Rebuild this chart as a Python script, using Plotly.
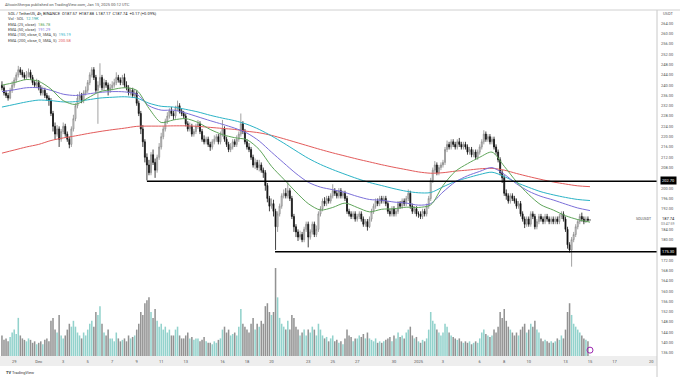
import plotly.graph_objects as go
import pandas as pd

# ---------------- data (4h candles, SOL/USDT, Nov 28 2024 00:00 -> Jan 15 2025 00:00) ----------------
START = "2024-11-28 00:00"

opens = [
 240,239,237,236,235,238, 240,242,244,246,245,244, 243,244,245,243,241,240,
 241,239,237,238,236,235, 234,229,224,221,223,219, 222,224,221,219,217,223,
 227,232,235,236,234,237, 238,241,244,246,243,238, 240,243,239,241,240,238,
 239,240,241,243,242,241, 243,240,239,237,238,236, 237,233,229,223,218,212,
 209,206,213,210,207,212, 216,220,223,226,228,230, 229,228,231,232,230,229,
 228,225,223,224,221,222, 224,225,222,219,218,219, 217,216,218,219,220,218,
 221,223,219,217,215,216, 218,217,219,221,225,222, 218,216,215,212,209,210,
 208,209,207,206,201,196, 193,194,191,185,190,193, 197,198,197,199,196,189,
 185,183,181,182,180,184, 186,181,183,186,182,184, 190,192,195,194,196,195,
 197,199,198,197,199,197, 198,196,191,190,189,190, 188,189,190,188,186,187,
 185,188,191,193,195,194, 196,195,196,194,191,190, 192,190,191,194,193,195,
 194,196,198,193,191,192, 190,190,189,191,190,193, 196,203,207,209,206,208,
 209,210,215,217,216,218, 217,216,218,217,216,217, 216,214,215,213,214,212,
 214,216,218,221,219,220, 218,219,216,214,211,206, 204,198,197,195,197,196,
 195,193,194,190,188,186, 188,186,190,189,185,187, 189,188,187,189,188,187,
 188,187,188,187,189,190, 188,184,178,176,180,182, 185,187,189,188,187,188,
 187.57]

highs = [
 241.5,240,238,237,239,241.5, 243,245,247.5,247,246,245, 245.5,246.5,246,244,242,242.5,
 242,240,239.5,239,237,236, 235,230,225.5,224.5,224,223, 225.5,225,222,220,224,228.5,
 233,236.5,237.5,237,238,239.5, 242,245,247,247,244,241.5, 248.5,244,242.5,242,241,240.5,
 241.5,242.5,245,244,243,244, 244.5,241.5,240,239,239,238.5, 238,234,230,224.5,219,213.5,
 211,214,215,211.5,213,217.5, 221.5,224,227,229.5,231,231.5, 230,232,234,233,231,230,
 229,226,225.5,225,223,225, 226.5,226,223,220.5,220,220, 218,219,220.5,221,221,222,
 226.5,224,220,218,217.5,219, 219,220.5,222,229,226,223, 219,217.5,216,213,211.5,211,
 211,210,208,207,202,197, 196,195.5,192,191,194,198, 199.5,200,202.3,200,197,190,
 186,184,183.5,183,185,187, 187,184,187,187,185.5,191, 193,196,196.5,197,197,198,
 201.5,200,199,200,200,199, 199,197,192,191,191,191, 190,191,191,189,188,188,
 189,192,194,196,196,197, 197,197,197,195,192,193, 193,192,195,195,196,196,
 197,199.5,199,194,193,193, 191,191,192,192,194,197, 204,208,210.5,210,209,210,
 211,216,218.5,218,219,219, 218,219,219.5,218,218,218, 217,216,216,215,215,215,
 217,219,222.5,222,221,221, 220,220,217,215,212,207, 205,199.5,198,198,198,197,
 196,195,195,191,189,189, 189,191,191,190,188,190, 190,189,190,190,189,189,
 189,189,189,190,191,191, 189,185,179,181,183,186, 188,190,190.5,189,189,189,
 187.88]

lows = [
 238,236,235,234,234.5,237, 239,241,243,244,243,242, 242,243,242,240,239,239,
 238,236,236,235,234,232, 228,222,219,220,216,218, 221,220,218,215.5,216,222,
 226,231,234,233,233,236, 237,240,243,242,237,225, 239,238,238,239,236,237,
 238,239,240,241,240,240, 239,238,236,236,235,235, 232,228,221,216,210,203,
 205,205,209,204,206,211, 215,219,222,225,227,228, 226.5,227,230,229,228,227,
 224,222,222,220,220,221, 223,221,218,217,217,216, 214.5,215,217,218,217,217,
 220,218,216,214,214,215, 216,216,218,220,221,217, 215,214,211,208,207.5,207,
 206.5,206,204,199,194.5,191, 192,189,176,183,189,192, 196,196,196,195,188,183,
 181,179.5,180,179,179,183, 177,180,182,181,181,183, 189,191,193,193,194,194,
 196,197,196,196,196,196, 195,190,189,188,188,187, 187,188,187,185,185,183.5,
 184.5,187,190,192,193,193, 194,194,193,190,189,189, 189,189,190,192,192,193,
 193,195,192,190,190,189, 188.5,188,188,189,189,192, 195,202,206,205,205,207,
 208,209,214,215,215,216, 215,215,216,215,215,215, 213,213,212,212,211,211,
 213,215,217,218,218,217, 217,215,213,210,205,202, 197,195.5,194,194,195,194,
 192,192,189,187,184.5,185, 185,185,188,184,184,186, 187,186,186,187,186,186,
 186,186,186,186,188,187, 183,176.5,175,169.5,179,181, 184,186,187,186,186.5,187,
 187.17]

closes = [
 239,237,236,235,238,240, 242,244,246,245,244,243, 244,245,243,241,240,241,
 239,237,238,236,235,234, 229,224,221,223,219,222, 224,221,219,217,223,227,
 232,235,236,234,237,238, 241,244,246,243,238,240, 243,239,241,240,238,239,
 240,241,243,242,241,243, 240,239,237,238,236,237, 233,229,223,218,212,209,
 206,213,210,207,212,216, 220,223,226,228,230,229, 228,231,232,230,229,228,
 225,223,224,221,222,224, 225,222,219,218,219,217, 216,218,219,220,218,221,
 223,219,217,215,216,218, 217,219,221,225,222,218, 216,215,212,209,210,208,
 209,207,206,201,196,193, 194,191,185,190,193,197, 198,197,199,196,189,185,
 183,181,182,180,184,186, 181,183,186,182,184,190, 192,195,194,196,195,197,
 199,198,197,199,197,198, 196,191,190,189,190,188, 189,190,188,186,187,185,
 188,191,193,195,194,196, 195,196,194,191,190,192, 190,191,194,193,195,194,
 196,198,193,191,192,190, 190,189,191,190,193,196, 203,207,209,206,208,209,
 210,215,217,216,218,217, 216,218,217,216,217,216, 214,215,213,214,212,214,
 216,218,221,219,220,218, 219,216,214,211,206,204, 198,197,195,197,196,195,
 193,194,190,188,186,188, 186,190,189,185,187,189, 188,187,189,188,187,188,
 187,188,187,189,190,188, 184,178,176,180,182,185, 187,189,188,187,188,187.57,
 187.74]

volumes_k = [
 700,550,600,500,650,800, 900,750,1300,700,600,550, 500,600,550,450,500,400,
 450,500,400,550,600,500, 1200,1300,900,800,1400,700, 600,700,900,1100,1000,1200,
 1000,800,700,600,800,700, 900,1100,1200,1000,1500,1400, 1700,1100,800,700,900,600,
 600,500,800,600,500,550, 600,500,700,600,650,700, 900,1100,1500,1400,1800,1900,
 2000,1500,1300,1600,1200,1000, 1100,900,1000,800,900,700, 700,900,1000,700,600,600,
 700,800,600,650,550,600, 600,500,550,650,500,450, 450,400,500,450,550,600,
 900,1000,800,900,700,750, 800,700,1000,1600,1100,1000, 900,800,1100,1300,900,1100,
 1000,1200,1100,1700,1800,1500, 1400,1500,3000,2000,1300,1100, 1000,900,1200,900,1400,1300,
 1000,900,700,800,900,700, 900,800,1000,900,700,1100, 900,700,600,650,500,600,
 700,500,550,450,500,400, 600,900,700,650,500,600, 600,700,650,750,600,800,
 600,550,500,600,450,500, 450,500,550,600,650,500, 700,600,800,650,700,600,
 800,900,1000,700,600,650, 500,450,550,500,600,900, 1500,1200,1100,900,800,700,
 800,1100,1000,800,700,650, 600,550,600,500,450,500, 450,500,400,450,500,450,
 600,800,900,750,700,650, 700,900,800,1000,1500,1300, 1600,1200,1000,900,800,700,
 800,700,900,1000,1100,800, 900,1100,1000,1200,900,800, 600,500,550,500,450,500,
 450,500,600,550,700,600, 900,1500,1800,1400,1100,1000, 900,800,700,600,550,500,
 12.19]

# EMA lines, read once per day (00:00 UTC) from Nov 28 to Jan 15
ema_days = pd.date_range("2024-11-28", "2025-01-15", freq="D")
ema25 = [240,241,242.2,241.5,238.5,234,232.5,235,237.5,238.3,239,238,231,225.5,226.5,227,225.5,222.8,
         220.8,219.6,218.8,215,208.5,203.5,198.5,194,191.5,192.5,194.2,192.5,190.8,191.8,192,192.6,
         192.5,193.5,201,206.5,209.5,212,214,208.5,202.5,197.5,193.5,191.5,189.3,187.8,186.78]
ema50 = [237.5,238.2,239,239,238,236.5,236,236.6,237.2,237.5,237.4,236.5,232,230.3,230.3,229.2,227.7,226.2,
         224.8,223.3,221.4,218.3,214,209.8,205.7,202.3,200.4,199.4,198.3,196.8,195.6,195.3,194.6,194.2,
         193.4,194,198.5,202.4,204.8,206.5,208,205.4,201.7,198.8,196.8,195.4,193.8,192.3,191.29]
ema100 = [231.5,232.5,233.5,234.2,234,233.5,233.6,234.3,235,235.3,235.5,235,233,231.8,231.5,230.6,229.6,228.3,
          227.2,226.2,224.8,222.8,220.3,217.5,214.5,211.6,209.2,207.2,205.4,203.7,202.2,201,199.8,198.8,
          198.2,198.3,200.5,202.6,204,205.3,206.2,204.5,202.2,200.3,198.6,197.4,196.4,195.6,195.19]
ema200 = [213.6,214.8,216,217,218.5,219.5,220.3,221.2,222,222.7,223.3,224,224.1,224.1,224.2,224.2,224,223.6,
          223.2,222.8,222.1,221.5,220.5,219.2,217.8,216.4,215,213.7,212.5,211.3,210.2,209.1,208.1,207.2,
          206.3,205.8,206,206.6,207,207.5,207.7,207,205.7,204.5,203.4,202.4,201.6,200.9,200.58]

resistance_level = 202.70
resistance_start = "2024-12-09 20:00"
support_level = 175.30
support_start = "2024-12-20 07:00"

# price-axis labels (204, 188 and 176 sit under the price boxes on the original)
price_ticks = [136, 140, 144, 148, 152, 156, 160, 164, 168, 172, 180, 184, 192, 196, 200,
               208, 212, 216, 220, 224, 228, 232, 236, 240, 244, 248, 252, 256, 260, 264]
date_tickvals = ["2024-11-29", "2024-12-01", "2024-12-03", "2024-12-05", "2024-12-07", "2024-12-09",
                 "2024-12-11", "2024-12-13", "2024-12-16", "2024-12-18", "2024-12-20", "2024-12-23",
                 "2024-12-25", "2024-12-27", "2024-12-30", "2025-01-01", "2025-01-03", "2025-01-06",
                 "2025-01-08", "2025-01-10", "2025-01-13", "2025-01-15", "2025-01-17", "2025-01-20"]
date_ticktext = ["29", "Dec", "3", "5", "7", "9", "11", "13", "16", "18", "20", "23", "25", "27", "30",
                 "2025", "3", "6", "8", "10", "13", "15", "17", "20"]

# ---------------- figure ----------------
times = pd.date_range(START, periods=len(closes), freq="4h")

W, H = 680, 377
ML, MR, MT, MB = 0, 23, 10, 21
PW, PH = W - ML - MR, H - MT - MB

def px(x):
    return (x - ML) / PW

def py(y):
    return 1 - (y - MT) / PH

C_GREEN = "#5fa55a"
C_PURPLE = "#7b6fd9"
C_CYAN = "#2bb3c6"
C_RED = "#e35b5b"
C_TEAL = "#26a69a"

vol_colors = ["rgba(38,166,154,0.5)" if c >= o else "rgba(110,110,110,0.75)" for o, c in zip(opens, closes)]

fig = go.Figure()

fig.add_trace(go.Candlestick(
    x=times, open=opens, high=highs, low=lows, close=closes,
    increasing=dict(line=dict(color="#8a8a8a", width=0.8), fillcolor="#e6e6e6"),
    decreasing=dict(line=dict(color="#111111", width=0.8), fillcolor="#111111"),
    whiskerwidth=0, hoverinfo="skip", showlegend=False))

for vals, col in [(ema200, C_RED), (ema100, C_CYAN), (ema50, C_PURPLE), (ema25, C_GREEN)]:
    fig.add_trace(go.Scatter(x=ema_days, y=vals, mode="lines",
                             line=dict(color=col, width=1, shape="spline", smoothing=0.8),
                             hoverinfo="skip", showlegend=False))

fig.add_trace(go.Bar(x=times, y=volumes_k, yaxis="y2", marker=dict(color=vol_colors, line=dict(width=0)),
                     hoverinfo="skip", showlegend=False))

x_end = "2025-01-20 11:17"
fig.add_shape(type="line", xref="x", yref="y", x0=resistance_start, x1=x_end,
              y0=resistance_level, y1=resistance_level, line=dict(color="#000000", width=1.6))
fig.add_shape(type="line", xref="x", yref="y", x0=support_start, x1=x_end,
              y0=support_level, y1=support_level, line=dict(color="#000000", width=1.6))

# right axis separator and bottom time-axis band
fig.add_shape(type="line", xref="paper", yref="paper", x0=1, x1=1, y0=py(H), y1=py(MT),
              line=dict(color="#c8c8c8", width=1))
fig.add_shape(type="rect", xref="paper", yref="paper", x0=0, x1=1, y0=py(366), y1=py(356),
              fillcolor="#eeeeee", line=dict(width=0), layer="below")
fig.add_shape(type="line", xref="paper", yref="paper", x0=0, x1=px(W), y0=py(MT), y1=py(MT),
              line=dict(color="#d0d0d0", width=1))

F = "Roboto, Arial, sans-serif"
ann = []

def txt(x, y, s, size=4, color="#444444", xanchor="left", bg=None):
    d = dict(x=px(x), y=py(y), xref="paper", yref="paper", text=s, showarrow=False,
             xanchor=xanchor, yanchor="middle", font=dict(family=F, size=size, color=color))
    if bg:
        d.update(bgcolor=bg, borderpad=1)
    ann.append(d)

txt(3, 5, "AltcoinSherpa published on TradingView.com, Jan 15, 2025 00:12 UTC", color="#555555")
txt(6, 13.3, "SOL / TetherUS, 4h, BINANCE  O187.57  H187.88  L187.17  C187.74  +0.17 (+0.09%)", color="#222222")
txt(6, 18.7, f"Vol · SOL  <span style='color:{C_TEAL}'>12.19K</span>")
txt(6, 24.0, f"EMA (25, close)  <span style='color:{C_GREEN}'>186.78</span>")
txt(6, 29.3, f"EMA (50, close)  <span style='color:{C_PURPLE}'>191.29</span>")
txt(6, 34.7, f"EMA (100, close, 0, SMA, 5)  <span style='color:{C_CYAN}'>195.19</span>")
txt(6, 40.0, f"EMA (200, close, 0, SMA, 5)  <span style='color:{C_RED}'>200.58</span>")

txt(668, 14, "USDT", xanchor="center", color="#555555")
txt(668, 181, f"{resistance_level:.2f}", xanchor="center", color="#ffffff", bg="#000000")
txt(668, 251.5, f"{support_level:.2f}", xanchor="center", color="#ffffff", bg="#000000")
txt(668, 219, "187.74", xanchor="center", color="#222222")
txt(668, 224, "03:47:59", xanchor="center", color="#777777", size=3.5)
txt(654, 219, "SOLUSDT", xanchor="right", color="#444444", size=3.5)
txt(4, 372, "<b>TV</b> TradingView", color="#333333")

fig.add_trace(go.Scatter(x=[times[-1]], y=[200], yaxis="y2", mode="markers",
                         marker=dict(symbol="circle-open", size=6, color="#9c27b0", line=dict(width=1)),
                         hoverinfo="skip", showlegend=False))

fig.update_layout(
    width=W, height=H,
    margin=dict(l=ML, r=MR, t=MT, b=MB),
    paper_bgcolor="#ffffff", plot_bgcolor="#ffffff",
    showlegend=False,
    bargap=0.25,
    annotations=ann,
    xaxis=dict(type="date", range=["2024-11-27 20:10", x_end], rangeslider=dict(visible=False),
               showgrid=False, zeroline=False, showline=False,
               tickmode="array", tickvals=date_tickvals, ticktext=date_ticktext,
               tickfont=dict(family=F, size=4, color="#555555"), ticks="", ticklabelstandoff=2),
    yaxis=dict(range=[134.8, 269.2], side="right", showgrid=False, zeroline=False,
               tickmode="array", tickvals=price_ticks, ticktext=[f"{v:.2f}" for v in price_ticks],
               tickfont=dict(family=F, size=4, color="#555555"), ticks="", ticklabelstandoff=3),
    yaxis2=dict(overlaying="y", range=[0, 11800], visible=False),
)

fig.write_html("out.html", config={"displayModeBar": False},
               post_script="document.body.style.margin='0px';document.body.style.overflow='hidden';")
